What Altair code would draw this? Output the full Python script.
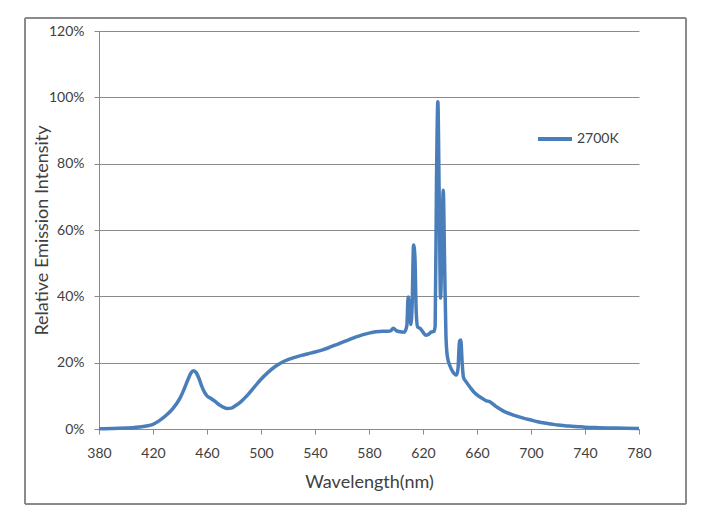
import altair as alt
import pandas as pd

wavelength = [380, 390, 400, 405, 410, 415, 420, 425, 430, 435, 440, 443, 446, 448, 450, 452, 454, 456, 458, 460,
              463, 466, 469, 472, 475, 478, 481, 485, 490, 495, 500, 505, 510, 515, 520, 525, 530, 535, 540, 545,
              550, 555, 560, 565, 570, 575, 580, 585, 590, 594, 596, 598, 600, 603, 606, 608, 609, 610, 611, 612,
              613, 614, 615, 616, 618, 620, 622, 624, 626, 628, 629, 630, 631, 632, 633, 634, 635, 636, 637, 638,
              640, 642, 644, 645, 646, 647, 648, 649, 650, 652, 655, 658, 661, 664, 667, 669, 671, 674, 677, 680,
              685, 690, 695, 700, 705, 710, 715, 720, 725, 730, 735, 740, 750, 760, 770, 780]
intensity = [0.1, 0.15, 0.3, 0.4, 0.6, 0.9, 1.4, 2.6, 4.2, 6.3, 9.3, 12.0, 15.0, 16.8, 17.6, 17.0, 15.3, 13.0, 11.2, 10.0,
             9.2, 8.3, 7.3, 6.6, 6.2, 6.3, 7.0, 8.2, 10.2, 12.6, 15.0, 17.0, 18.7, 20.0, 20.9, 21.6, 22.2, 22.7, 23.2, 23.8,
             24.5, 25.3, 26.1, 26.9, 27.7, 28.4, 28.9, 29.3, 29.5, 29.5, 29.6, 30.4, 29.7, 29.3, 29.2, 31.0, 39.8, 37.0, 31.5, 38.0,
             55.5, 52.0, 35.0, 30.8, 30.3, 29.2, 28.3, 28.5, 29.2, 29.4, 31.0, 75.0, 98.7, 70.0, 39.5, 55.0, 72.0, 50.0, 28.0, 22.0,
             19.0, 17.3, 16.4, 16.3, 18.5, 26.5, 26.8, 20.0, 15.5, 14.2, 12.5, 11.0, 10.0, 9.2, 8.5, 8.3, 7.8, 6.8, 6.0, 5.3,
             4.5, 3.8, 3.2, 2.7, 2.2, 1.8, 1.5, 1.2, 1.0, 0.85, 0.7, 0.55, 0.4, 0.3, 0.2, 0.15]
series_name = "2700K"
x_ticks = list(range(380, 781, 40))
y_ticks = list(range(0, 121, 20))

df = pd.DataFrame({"wl": wavelength, "val": intensity, "series": series_name})

FONT = "Lato"
GRAY = "#8a8a8a"
TXT = "#404040"

line = alt.Chart(df).mark_line(strokeWidth=3.5, interpolate="monotone").encode(
    x=alt.X("wl:Q", scale=alt.Scale(domain=[380, 780], nice=False),
            axis=alt.Axis(values=x_ticks, title="Wavelength(nm)", grid=False,
                          domainColor=GRAY, tickColor=GRAY, tickSize=5, labelFlush=False,
                          labelPadding=12, titlePadding=13)),
    y=alt.Y("val:Q", scale=alt.Scale(domain=[0, 120], nice=False),
            axis=alt.Axis(values=y_ticks, title="Relative Emission Intensity",
                          labelExpr="datum.value + '%'", grid=True, gridColor=GRAY,
                          domainColor=GRAY, tickColor=GRAY, tickSize=5,
                          labelPadding=10, titlePadding=-3)),
    color=alt.Color("series:N", scale=alt.Scale(range=["#4A7EBB"]),
                    legend=alt.Legend(title=None, orient="none", legendX=437, legendY=89,
                                      symbolType="stroke", symbolSize=1156, symbolStrokeWidth=4,
                                      labelFontSize=14, labelFont=FONT, labelColor=TXT,
                                      labelOffset=3, padding=0)),
)

frame = alt.Chart(df).mark_rect(fill=None, stroke=GRAY, strokeWidth=1, clip=False).encode(
    x=alt.value(-74), x2=alt.value(587), y=alt.value(-13), y2=alt.value(473)
)

chart = alt.layer(frame, line).properties(
    width=540, height=398,
    autosize=alt.AutoSizeParams(type="none"),
    padding={"left": 91, "top": 23, "right": 60, "bottom": 79},
    background="white",
).configure_view(stroke=None).configure_axis(
    labelFont=FONT, labelFontSize=14, labelColor=TXT,
    titleFont=FONT, titleFontSize=18, titleFontWeight="normal", titleColor=TXT,
)

chart.save("out.html", embed_options={"renderer": "svg", "actions": False})
